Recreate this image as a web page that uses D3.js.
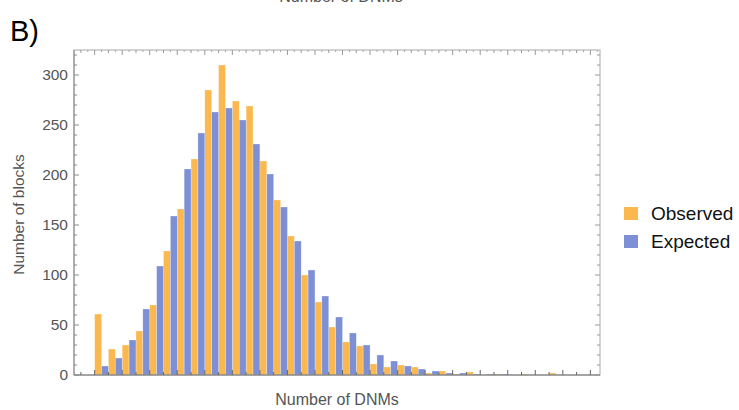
<!DOCTYPE html>
<html>
<head>
<meta charset="utf-8">
<script src="https://cdn.jsdelivr.net/npm/d3@7"></script>
<style>
  html, body { margin: 0; padding: 0; background: #fff; }
  svg { display: block; font-family: "Liberation Sans", Arial, Helvetica, sans-serif; }
</style>
</head>
<body>
<svg id="chart" width="739" height="410"></svg>
<script>
// Number of DNMs per block (bin index 0..35)
const bins = d3.range(0, 36);
const observed = [61, 26, 30, 44, 70, 124, 166, 216, 285, 310, 274, 269, 214, 175, 139, 100,
                  73, 48, 33, 29, 11, 8, 10, 8, 2, 4, 1, 3, 0, 1, 0, 1, 0, 2, 0, 0];
const expected = [9, 17, 35, 66, 109, 159, 206, 242, 263, 267, 255, 231, 201, 168, 134, 105,
                  79, 58, 42, 30, 20, 14, 9, 6, 4, 2, 2, 1, 1, 1, 0, 0, 0, 0, 0, 0];
const seriesNames = ["Observed", "Expected"];
const seriesColors = ["#fbb84f", "#7d8fd5"];
const yTicks = [0, 50, 100, 150, 200, 250, 300];

const svg = d3.select("#chart");
const pLeft = 74, pRight = 600, pTop = 50, pBottom = 375;

const x = d3.scaleLinear().domain([-1.5, 36.7]).range([pLeft, pRight]);
const y = d3.scaleLinear().domain([0, 325]).range([pBottom, pTop]);

// panel label and the title of the panel above, clipped at the top edge
svg.append("text").attr("x", 10).attr("y", 41).attr("font-size", 29)
  .attr("fill", "#000").text("B)");
svg.append("text").attr("x", 341).attr("y", 2).attr("text-anchor", "middle")
  .attr("font-size", 16).attr("fill", "#555").text("Number of DNMs");

// bars: observed on the left half of each bin, expected on the right half
const series = [observed, expected];
series.forEach((vals, s) => {
  svg.append("g").selectAll("rect").data(bins).join("rect")
    .attr("x", k => x(k + 0.5 * s))
    .attr("width", k => x(k + 0.5 * (s + 1)) - x(k + 0.5 * s))
    .attr("y", k => y(vals[k]))
    .attr("height", k => y(0) - y(vals[k]))
    .attr("fill", seriesColors[s])
    .attr("stroke", "#ffffff").attr("stroke-opacity", 0.45).attr("stroke-width", 0.6);
});

// frame
const frameColor = "#8a8a8a";
svg.append("rect").attr("x", pLeft).attr("y", pTop)
  .attr("width", pRight - pLeft).attr("height", pBottom - pTop)
  .attr("fill", "none").attr("stroke", "#a8a8a8").attr("stroke-width", 1);
svg.append("line").attr("x1", pLeft).attr("x2", pLeft).attr("y1", pTop).attr("y2", pBottom)
  .attr("stroke", frameColor);
svg.append("line").attr("x1", pLeft).attr("x2", pRight).attr("y1", pBottom).attr("y2", pBottom)
  .attr("stroke", "#777");

// y ticks on the left and mirrored on the right
const yMinor = d3.range(0, 321, 10);
yMinor.forEach(v => {
  const len = v % 50 === 0 ? 5 : 3;
  svg.append("line").attr("x1", pLeft).attr("x2", pLeft + len)
    .attr("y1", y(v)).attr("y2", y(v)).attr("stroke", frameColor);
  svg.append("line").attr("x1", pRight).attr("x2", pRight - len)
    .attr("y1", y(v)).attr("y2", y(v)).attr("stroke", "#999");
});
const yLab = svg.append("g").attr("transform", `translate(${pLeft - 6},0)`)
  .call(d3.axisLeft(y).tickValues(yTicks).tickSize(0).tickPadding(0));
yLab.select(".domain").remove();
yLab.selectAll("text").attr("font-size", 15.5).attr("fill", "#555")
  .attr("font-family", "Liberation Sans, Arial, sans-serif");

// x ticks (bottom and top), no labels
d3.range(-1, 37).forEach(k => {
  const len = k % 2 === 0 ? 5 : 3;
  svg.append("line").attr("x1", x(k)).attr("x2", x(k))
    .attr("y1", pBottom).attr("y2", pBottom - len).attr("stroke", "#666");
  svg.append("line").attr("x1", x(k)).attr("x2", x(k))
    .attr("y1", pTop).attr("y2", pTop + len).attr("stroke", "#999");
  svg.append("line").attr("x1", x(k + 0.5)).attr("x2", x(k + 0.5))
    .attr("y1", pTop).attr("y2", pTop + 2).attr("stroke", "#aaa");
});

// axis titles
svg.append("text").attr("x", 337).attr("y", 405).attr("text-anchor", "middle")
  .attr("font-size", 16).attr("fill", "#555").text("Number of DNMs");
svg.append("text").attr("transform", `translate(24,${(pTop + pBottom) / 2 + 2}) rotate(-90)`)
  .attr("text-anchor", "middle").attr("font-size", 15.5).attr("fill", "#555")
  .text("Number of blocks");

// legend
const legend = svg.append("g").attr("transform", "translate(624,207)");
seriesNames.forEach((name, i) => {
  const g = legend.append("g").attr("transform", `translate(0,${i * 28})`);
  g.append("rect").attr("width", 14).attr("height", 13).attr("fill", seriesColors[i]);
  g.append("text").attr("x", 27).attr("y", 13).attr("font-size", 19)
    .attr("fill", "#111").text(name);
});
</script>
</body>
</html>
